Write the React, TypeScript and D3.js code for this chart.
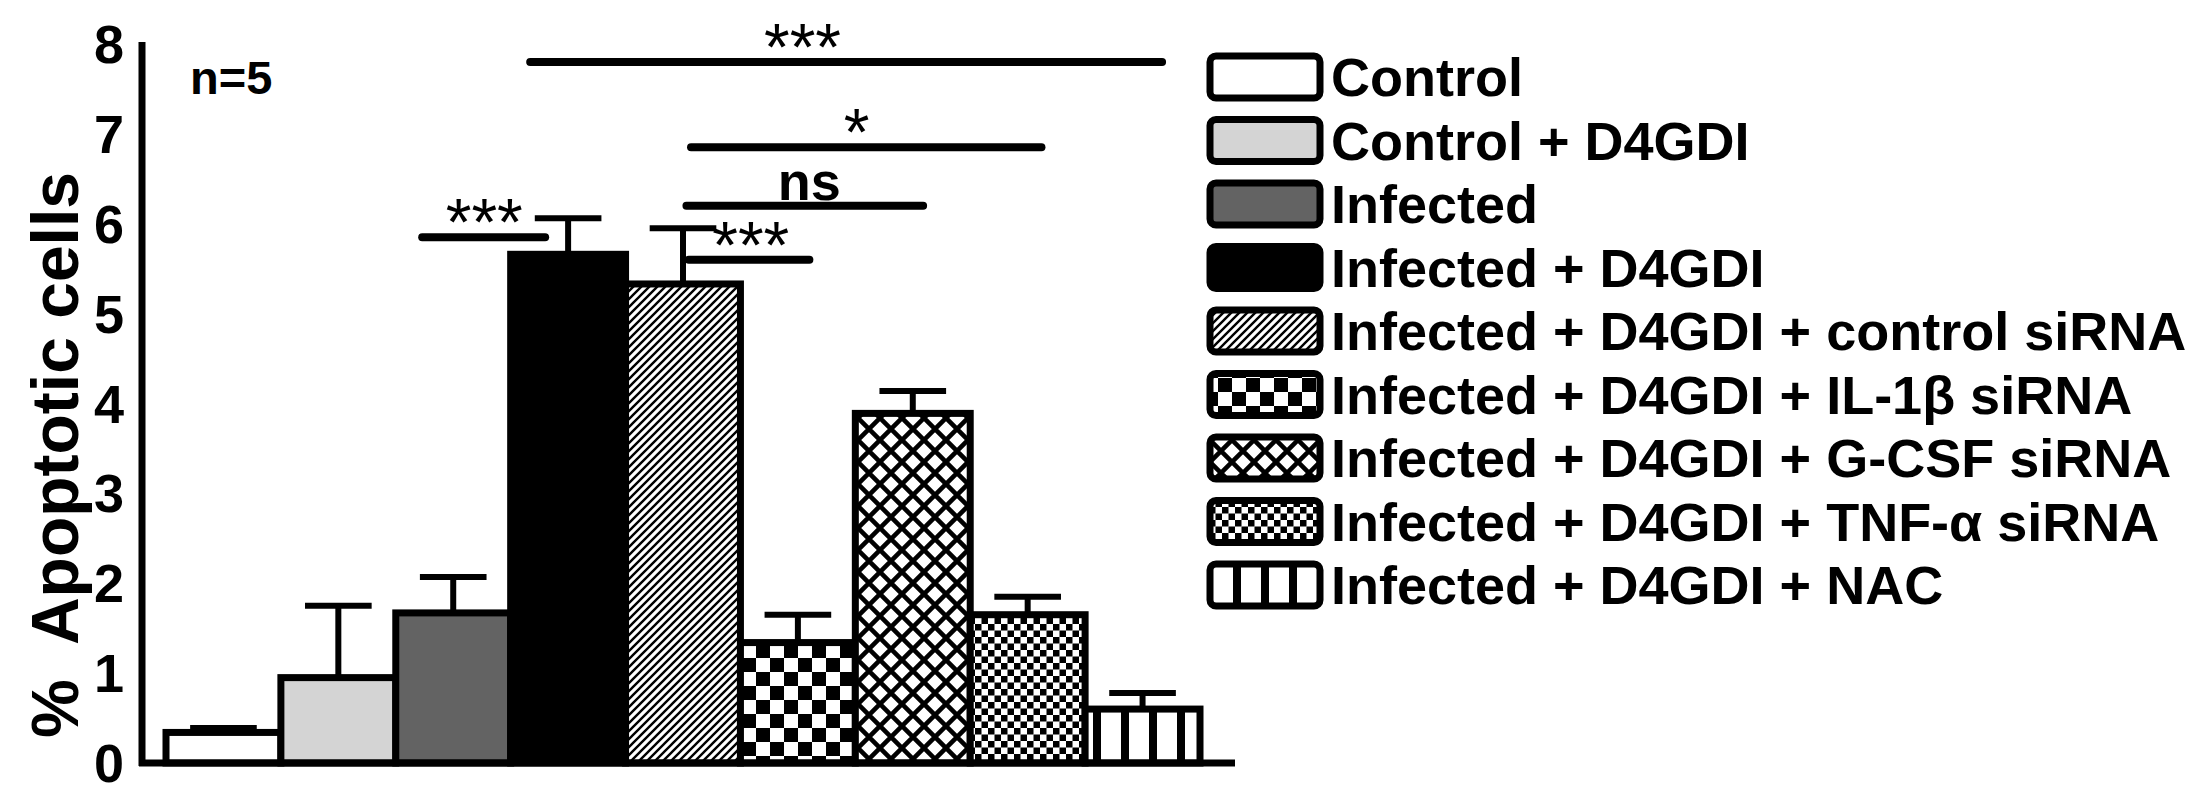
import React from "react";
import * as d3 from "d3";

const categories = [
  "Control",
  "Control + D4GDI",
  "Infected",
  "Infected + D4GDI",
  "Infected + D4GDI + control siRNA",
  "Infected + D4GDI + IL-1β siRNA",
  "Infected + D4GDI + G-CSF siRNA",
  "Infected + D4GDI + TNF-α siRNA",
  "Infected + D4GDI + NAC",
];
const means = [0.34, 0.95, 1.67, 5.66, 5.33, 1.34, 3.89, 1.65, 0.6];
const sems = [0.05, 0.8, 0.4, 0.4, 0.62, 0.31, 0.25, 0.2, 0.18];
const fills = [
  "#ffffff",
  "#d4d4d4",
  "#636363",
  "#000000",
  "url(#hatch)",
  "url(#checker)",
  "url(#cross)",
  "url(#fine)",
  "url(#vstripe)",
];
const yTicks = [0, 1, 2, 3, 4, 5, 6, 7, 8];

// significance bars, positions in bar slots (0..9)
const brackets = [
  { from: 3.17, to: 8.67, level: 7.8, label: "***", at: 5.54 },
  { from: 4.57, to: 7.62, level: 6.85, label: "*", at: 6.01 },
  { from: 4.53, to: 6.59, level: 6.2, label: "ns", at: 5.6 },
  { from: 4.55, to: 5.6, level: 5.6, label: "***", at: 5.09 },
  { from: 2.23, to: 3.3, level: 5.85, label: "***", at: 2.77 },
];

const W = 2206;
const H = 800;
const font = "'Liberation Sans', Arial, sans-serif";

export default function App() {
  const axisX = 142;
  const x = d3.scaleBand<string>().domain(categories).range([166, 1200]).padding(0);
  const slot = d3.scaleLinear().domain([0, 9]).range([166, 1200]);
  const y = d3.scaleLinear().domain([0, 8]).range([763, 44]);
  const legendY = d3.scalePoint<string>().domain(categories).range([77, 585]);
  const bw = x.bandwidth();

  return (
    <svg
      width={W}
      height={H}
      style={{ position: "absolute", left: 0, top: 0, background: "#fff" }}
      fontFamily={font}
    >
      <defs>
        <pattern id="hatch" width="8" height="8" patternUnits="userSpaceOnUse">
          <rect width="8" height="8" fill="#fff" />
          <path d="M-2,2 L2,-2 M0,8 L8,0 M6,10 L10,6" stroke="#000" strokeWidth="2.4" />
        </pattern>
        <pattern id="checker" width="28" height="28" patternUnits="userSpaceOnUse">
          <rect width="28" height="28" fill="#fff" />
          <rect width="14" height="14" fill="#000" />
          <rect x="14" y="14" width="14" height="14" fill="#000" />
        </pattern>
        <pattern id="cross" width="22" height="22" patternUnits="userSpaceOnUse">
          <rect width="22" height="22" fill="#fff" />
          <path d="M0,0 L22,22 M22,0 L0,22 M-11,11 L11,-11 M11,33 L33,11 M-11,11 L11,33 M11,-11 L33,11" stroke="#000" strokeWidth="4.6" />
        </pattern>
        <pattern id="fine" width="13" height="13" patternUnits="userSpaceOnUse">
          <rect width="13" height="13" fill="#fff" />
          <rect width="6.5" height="6.5" fill="#000" />
          <rect x="6.5" y="6.5" width="6.5" height="6.5" fill="#000" />
        </pattern>
        <pattern id="vstripe" width="28" height="10" patternUnits="userSpaceOnUse" x="1">
          <rect width="28" height="10" fill="#fff" />
          <rect width="8" height="10" fill="#000" />
        </pattern>
      </defs>

      {/* bars */}
      {categories.map((c, i) => (
        <rect
          key={c}
          x={x(c)!}
          y={y(means[i])}
          width={bw}
          height={y(0) - y(means[i])}
          fill={fills[i]}
          stroke="#000"
          strokeWidth={7}
        />
      ))}

      {/* error bars */}
      {categories.map((c, i) => {
        const cx = x(c)! + bw / 2;
        const top = y(means[i] + sems[i]);
        return (
          <g key={"e" + c} stroke="#000" strokeWidth={6}>
            <line x1={cx} x2={cx} y1={y(means[i])} y2={top} />
            <line x1={cx - bw * 0.29} x2={cx + bw * 0.29} y1={top} y2={top} />
          </g>
        );
      })}

      {/* axes */}
      <line x1={axisX} x2={axisX} y1={y(0) + 3} y2={y(8) - 2} stroke="#000" strokeWidth={7} />
      <line x1={axisX - 3} x2={1235} y1={y(0)} y2={y(0)} stroke="#000" strokeWidth={7} />
      {yTicks.map((t) => (
        <text
          key={t}
          x={124}
          y={y(t)}
          textAnchor="end"
          dominantBaseline="central"
          fontSize={54}
          fontWeight="bold"
        >
          {t}
        </text>
      ))}
      <text
        transform={`translate(55,455) rotate(-90)`}
        textAnchor="middle"
        dominantBaseline="central"
        fontSize={66}
        fontWeight="bold"
        style={{ whiteSpace: "pre" }}
      >
        {"%  Apoptotic cells"}
      </text>
      <text x={190} y={94} fontSize={47} fontWeight="bold">
        n=5
      </text>

      {/* significance */}
      {brackets.map((b, i) => {
        const ly = y(b.level);
        const isStar = b.label.includes("*");
        return (
          <g key={"b" + i}>
            <line
              x1={slot(b.from)}
              x2={slot(b.to)}
              y1={ly}
              y2={ly}
              stroke="#000"
              strokeWidth={8}
              strokeLinecap="round"
            />
            <text
              x={slot(b.at)}
              y={isStar ? ly + 8 : ly - 6}
              textAnchor="middle"
              fontSize={isStar ? 66 : 54}
              fontWeight={isStar ? "normal" : "bold"}
            >
              {b.label}
            </text>
          </g>
        );
      })}

      {/* legend */}
      {categories.map((c, i) => {
        const cy = legendY(c)!;
        return (
          <g key={"l" + c}>
            <rect
              x={1210}
              y={cy - 21}
              width={110}
              height={42}
              rx={6}
              fill={fills[i]}
              stroke="#000"
              strokeWidth={7}
            />
            <text x={1331} y={cy} dominantBaseline="central" fontSize={54} fontWeight="bold">
              {c}
            </text>
          </g>
        );
      })}
    </svg>
  );
}
